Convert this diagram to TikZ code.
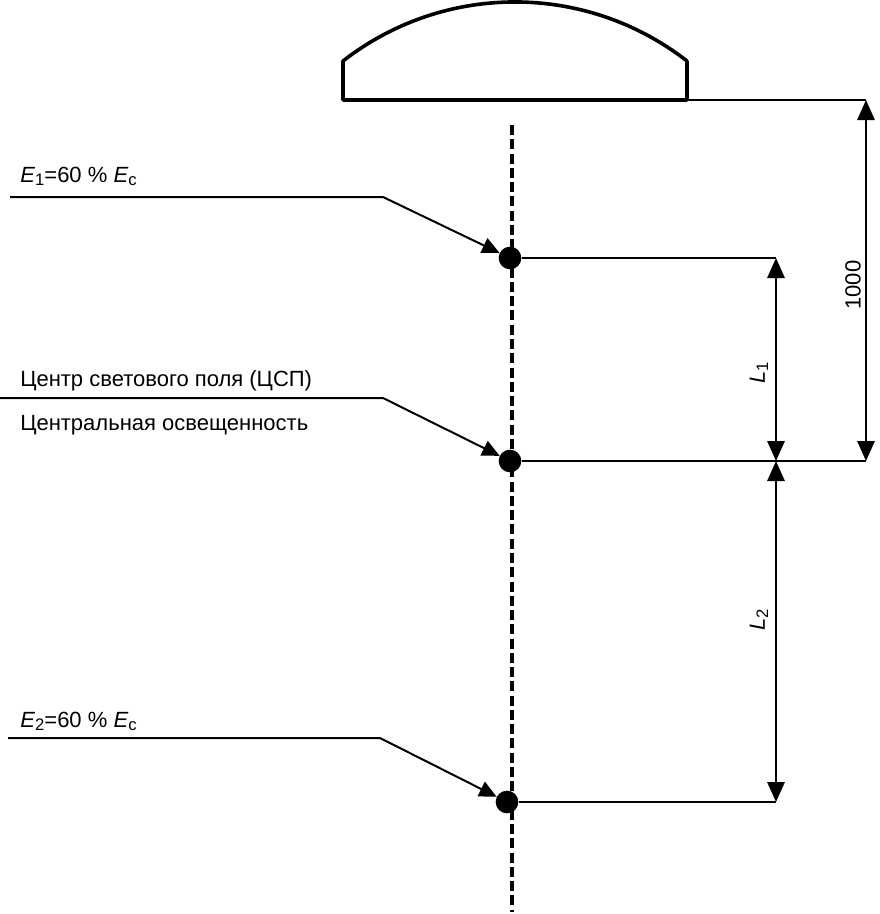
\documentclass[tikz,border=0pt]{standalone}
\usepackage{fontspec}
\setmainfont{Liberation Sans}
\usetikzlibrary{arrows.meta,shapes}

\newcommand{\lowidx}[1]{\raisebox{-0.28ex}{\fontsize{12.5}{14}\selectfont #1}}

\tikzset{
  thinline/.style={line width=1.5pt},
  lampline/.style={line width=2.7pt,line join=round},
  axisline/.style={line width=2.3pt,dash pattern=on 7.5pt off 3.2pt},
  dot/.style={circle,fill=black,inner sep=0pt,minimum size=17pt},
  dimline/.style={line width=1.5pt,{Triangle[length=15pt,width=13pt]}-{Triangle[length=15pt,width=13pt]}},
  leader/.style={line width=1.5pt,-{Triangle[length=13pt,width=12pt]}},
  lbl/.style={inner sep=0pt,font=\fontsize{16.5}{19}\selectfont}
}

\begin{document}
\begin{tikzpicture}[x=0.75pt,y=0.75pt,yscale=-1,xscale=1]
  \useasboundingbox (0,0) rectangle (880,914);
  %Shape: Lamp
  \draw[lampline] (687,61) -- (687,100) -- (343,100) -- (343,61) arc[start angle=232.1, end angle=307.9, radius=280] -- cycle;
  %Dashed axis
  \draw[axisline] (512,125) -- (512,912);

  %Points
  \node[dot] (e1) at (510,258) {};
  \node[dot] (ec) at (510,461) {};
  \node[dot] (e2) at (507,802) {};

  \coordinate (lampR) at (687,100);
  \coordinate (top) at (866,100);
  \coordinate (d1) at (776,258);
  \coordinate (dc) at (866,461);
  \coordinate (mid) at (776,461);
  \coordinate (d2) at (776,802);

  %Extension lines
  \draw[thinline] (lampR) -- (top);
  \draw[thinline] (e1) -- (d1);
  \draw[thinline] (ec) -- (dc);
  \draw[thinline] (e2) -- (d2);

  %Dimensions
  \draw[dimline] (top) -- (dc);
  \draw[dimline] (d1) -- (mid);
  \draw[dimline] (mid) -- (d2);

  % Text Node
  \node[lbl,rotate=90] (n1000) at (853,285) {1000};
  % Text Node
  \node[lbl,rotate=90] (nl1) at (759,373) {\textit{L}\lowidx{1}};
  % Text Node
  \node[lbl,rotate=90] (nl2) at (759,620) {\textit{L}\lowidx{2}};

  %Leaders
  \coordinate (a1) at (10,197);
  \coordinate (b1) at (383,197);
  \draw[leader] (a1) -- (b1) -- (e1);
  \coordinate (ac) at (0,398);
  \coordinate (bc) at (383,398);
  \draw[leader] (ac) -- (bc) -- (ec);
  \coordinate (a2) at (8,738);
  \coordinate (b2) at (380,738);
  \draw[leader] (a2) -- (b2) -- (e2);

  % Text Node
  \node[lbl,anchor=base west] (t1) at (20,182) {\textit{E}\lowidx{1}=60 \% \textit{E}\lowidx{c}};
  % Text Node
  \node[lbl,anchor=base west] (tc) at (20,386) {Центр светового поля (ЦСП)};
  % Text Node
  \node[lbl,anchor=base west] (to) at (20,430) {Центральная освещенность};
  % Text Node
  \node[lbl,anchor=base west] (t2) at (20,727) {\textit{E}\lowidx{2}=60 \% \textit{E}\lowidx{c}};
\end{tikzpicture}
\end{document}
